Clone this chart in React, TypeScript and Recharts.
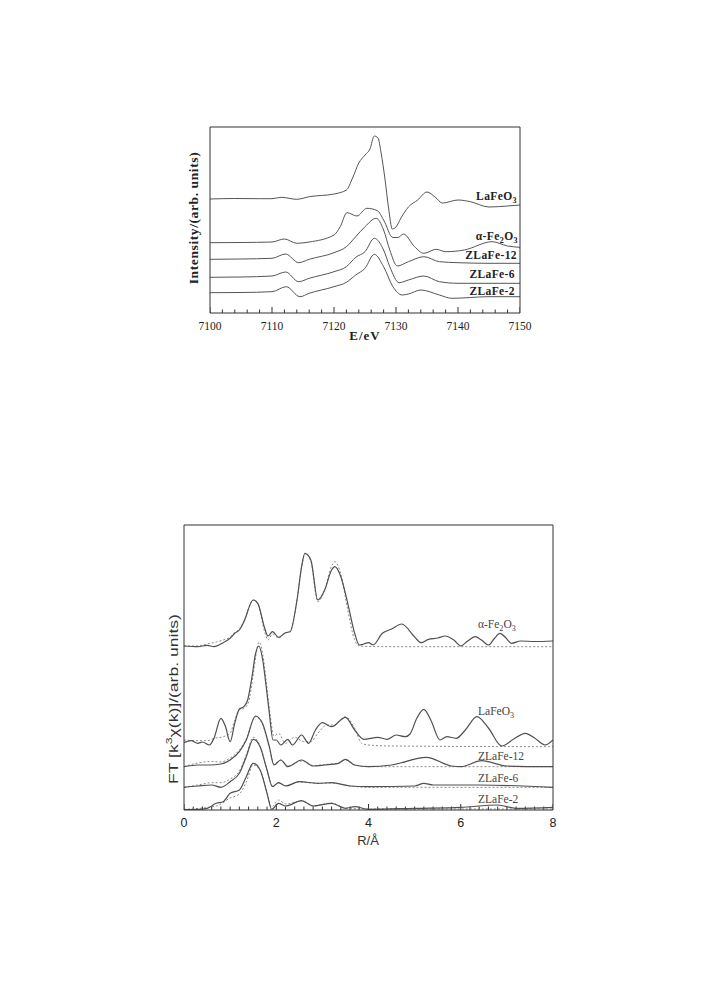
import React from 'react';
import { LineChart, Line, XAxis, YAxis } from 'recharts';

type Pt = [number, number];

// XANES (top panel): energy in eV, intensity in arbitrary units (offset stack)
const xanesLaFeO3: Pt[] = [
  [7100, 114], [7104, 114.5], [7108, 114.3], [7110, 114.3], [7111.5, 115.7], [7114, 113.7],
  [7116, 116.3], [7120, 119], [7122, 123], [7123, 135], [7124, 150], [7125, 158],
  [7125.8, 164], [7126.5, 177], [7127.1, 175], [7127.6, 160], [7128.2, 135], [7128.8, 105],
  [7129.4, 84], [7130, 86], [7130.8, 95], [7132, 106], [7133.5, 113], [7135, 121],
  [7136.3, 116], [7137.5, 110], [7140, 113], [7142, 111.3], [7145, 106], [7148, 107], [7150, 108],
];
const xanesFe2O3: Pt[] = [
  [7100, 70.3], [7105, 70.5], [7110, 71], [7112, 74], [7114, 69.7], [7116, 71], [7120, 78],
  [7121, 86.3], [7122.1, 100.3], [7123.7, 97], [7125.3, 104.7], [7127, 102.3], [7128, 93],
  [7129.5, 75.5], [7130.3, 75.5], [7131.2, 79], [7133, 66.3], [7134.5, 59.7], [7136.5, 63.7],
  [7138, 61.3], [7141, 63], [7145.5, 71.3], [7148, 67], [7150, 65.7],
];
const xanesZLaFe12: Pt[] = [
  [7100, 53.7], [7105, 54], [7110, 54.7], [7112.2, 59], [7114.3, 50.3], [7116, 53.7],
  [7120, 60.3], [7122, 66.3], [7123.5, 76.3], [7125, 86.3], [7126.8, 94.7], [7128, 83],
  [7129, 63], [7130.2, 47], [7132, 51.3], [7134.5, 56.3], [7137, 51.3], [7140, 50.3],
  [7145, 49.7], [7150, 49.7],
];
const xanesZLaFe6: Pt[] = [
  [7100, 35.7], [7105, 36], [7110, 37], [7112.2, 41], [7114.3, 31.3], [7116, 34.7],
  [7120, 41.3], [7122, 46.3], [7123.5, 55.7], [7125, 61.3], [7126.5, 74.7], [7128, 63],
  [7129, 46.3], [7130.5, 30.3], [7132, 33], [7134.5, 37], [7137, 31.3], [7140, 29.7],
  [7145, 29.7], [7150, 29.7],
];
const xanesZLaFe2: Pt[] = [
  [7100, 20.3], [7105, 20.5], [7110, 21.3], [7112.3, 26.3], [7114.5, 16.3], [7116, 19.7],
  [7120, 26.3], [7122, 30.7], [7123.5, 38], [7125, 44.7], [7126.5, 58.7], [7128, 46.3],
  [7129.5, 26.3], [7131, 18], [7132, 19], [7134, 23], [7137, 18], [7139, 14.7],
  [7145, 16.3], [7150, 16.3],
];

// FT EXAFS (bottom panel): R in Å, magnitude in arbitrary units (offset stack)
const ftFe2O3: Pt[] = [
  [0, 164], [0.3, 163.3], [0.5, 164.7], [0.65, 163.3], [0.85, 167.3], [1.0, 171.7], [1.1, 176.7],
  [1.2, 180], [1.3, 188.3], [1.5, 210], [1.6, 206.7], [1.75, 181.7], [1.82, 174], [1.92, 178.3],
  [2.05, 172.7], [2.2, 177.3], [2.3, 178.3], [2.45, 210], [2.55, 243.3], [2.62, 256.7],
  [2.75, 250], [2.9, 210], [3.05, 220], [3.2, 240], [3.27, 243.3], [3.4, 233.3], [3.55, 206.7],
  [3.7, 176.7], [3.8, 165], [3.9, 166], [4.0, 167.3], [4.1, 165], [4.3, 176.7], [4.5, 181],
  [4.72, 186], [5.0, 173], [5.14, 167.3], [5.3, 170.7], [5.5, 172], [5.66, 174], [5.85, 170],
  [6.0, 164], [6.15, 169], [6.31, 173.3], [6.45, 170], [6.6, 165], [6.72, 171], [6.85, 176.7],
  [6.98, 172], [7.1, 166.7], [7.3, 169], [7.6, 168.5], [8.0, 169],
];
const ftFe2O3Fit: Pt[] = [
  [0, 164], [0.3, 164], [0.5, 166], [0.7, 168], [0.85, 170], [1.0, 173], [1.1, 177.5], [1.2, 181],
  [1.3, 189], [1.5, 210], [1.6, 206], [1.75, 178], [1.82, 170], [1.92, 176], [2.05, 172],
  [2.2, 177], [2.3, 178.3], [2.45, 210], [2.55, 243], [2.62, 256.7], [2.75, 249], [2.9, 208.3],
  [3.05, 220], [3.2, 244], [3.27, 248.3], [3.4, 236], [3.55, 200], [3.7, 170], [3.8, 164],
  [4.0, 163.5], [5.0, 163.3], [8.0, 163.3],
];
const ftLaFeO3: Pt[] = [
  [0, 67.3], [0.15, 69.3], [0.3, 66.7], [0.4, 68], [0.55, 65], [0.65, 71.7], [0.8, 91.7],
  [0.9, 83.3], [1.0, 68.3], [1.1, 86.7], [1.2, 101], [1.3, 103.3], [1.38, 110], [1.47, 132],
  [1.55, 156], [1.62, 164], [1.7, 152], [1.77, 128], [1.85, 96.7], [1.93, 70], [2.0, 70],
  [2.1, 65], [2.25, 70.7], [2.35, 65], [2.55, 75], [2.7, 66.7], [2.85, 80], [3.0, 87.3],
  [3.2, 83.3], [3.5, 92.7], [3.7, 80], [3.9, 70.7], [4.2, 72.7], [4.4, 70.7], [4.6, 75],
  [4.8, 73.3], [4.9, 76], [5.05, 92], [5.2, 100.7], [5.35, 90], [5.55, 70], [5.7, 73.3],
  [5.9, 71.7], [6.1, 80], [6.35, 93.3], [6.6, 82], [6.89, 64], [7.15, 71], [7.4, 76.7],
  [7.6, 72], [7.83, 65], [8.0, 70],
];
const ftLaFeO3Fit: Pt[] = [
  [0, 70], [0.3, 69.3], [0.5, 69.3], [0.65, 71.7], [0.8, 72.7], [1.0, 76.7], [1.1, 90],
  [1.2, 100], [1.3, 101.7], [1.4, 108], [1.5, 135], [1.57, 158], [1.63, 168], [1.71, 155],
  [1.78, 130], [1.86, 98], [1.95, 74], [2.05, 76.7], [2.2, 66.7], [2.4, 72.7], [2.6, 68.3],
  [2.75, 68.3], [2.9, 76.7], [3.1, 85], [3.25, 85], [3.5, 93.3], [3.7, 81.7], [3.85, 66.7],
  [4.0, 65], [4.5, 64], [8.0, 63.3],
];
const ftZLaFe12: Pt[] = [
  [0, 43.3], [0.3, 45], [0.55, 45], [0.8, 46], [1.0, 50], [1.2, 58.3], [1.35, 70], [1.55, 94],
  [1.7, 86.7], [1.85, 63.3], [1.95, 45], [2.1, 50], [2.25, 43.3], [2.55, 50], [2.8, 44],
  [3.05, 45], [3.35, 46.7], [3.5, 50.7], [3.7, 45], [4.0, 43.3], [4.5, 45], [5.25, 52.7],
  [5.8, 44], [6.0, 43.3], [6.45, 49.3], [7.0, 44], [8.0, 43.3],
];
const ftZLaFe12Fit: Pt[] = [
  [0, 43.3], [0.3, 47], [0.6, 48.5], [0.8, 48], [1.0, 52], [1.2, 60], [1.35, 71], [1.55, 93.3],
  [1.7, 86], [1.85, 62], [1.95, 46], [2.1, 50], [2.25, 44], [2.55, 49], [2.8, 44.5],
  [3.05, 45.5], [3.35, 47], [3.5, 50], [3.7, 45], [4.0, 43.3], [8.0, 43.3],
];
const ftZLaFe6: Pt[] = [
  [0, 22.7], [0.3, 24], [0.6, 25], [0.8, 22.7], [1.0, 28.3], [1.2, 36.7], [1.35, 53.3],
  [1.5, 70.7], [1.65, 63.3], [1.8, 40], [1.92, 23.3], [2.05, 27.3], [2.2, 24], [2.5, 28.3],
  [2.9, 26.7], [3.2, 27.3], [3.6, 24], [4.0, 23.3], [5.0, 24], [5.2, 26.7], [5.4, 25],
  [6.4, 25], [8.0, 22.7],
];
const ftZLaFe6Fit: Pt[] = [
  [0, 22.7], [0.3, 25], [0.6, 27.3], [0.8, 27.3], [1.0, 31], [1.2, 39], [1.35, 55], [1.5, 72.7],
  [1.65, 64], [1.8, 40], [1.92, 24], [2.05, 27], [2.2, 24.5], [2.5, 28], [2.9, 26.7],
  [3.2, 27], [3.6, 24], [4.0, 22.7], [8.0, 22.7],
];
const ftZLaFe2: Pt[] = [
  [0, 0.5], [0.3, 0.7], [0.5, 1.7], [0.7, 6.7], [0.85, 8.3], [1.0, 16.7], [1.2, 20],
  [1.35, 33.3], [1.5, 46.7], [1.65, 40], [1.8, 16.7], [1.9, 0.7], [2.05, 6.7], [2.2, 4],
  [2.55, 9.3], [2.8, 4], [3.2, 6.7], [3.5, 1.7], [3.7, 3.3], [4.0, 0.7], [5.0, 1.7],
  [6.0, 2.7], [6.8, 5], [7.2, 1.7], [8.0, 2.7],
];
const ftZLaFe2Fit: Pt[] = [
  [0, 0.7], [0.7, 4], [1.0, 12], [1.2, 16], [1.35, 28], [1.5, 45], [1.65, 40], [1.8, 18],
  [1.9, 3], [2.05, 10], [2.2, 6], [2.55, 9], [2.8, 4], [3.2, 7], [3.5, 2], [4.0, 1], [8.0, 1],
];

const xanesMajorTicks = [7100, 7110, 7120, 7130, 7140, 7150];
const xanesTicks = Array.from({ length: 26 }, (_, i) => 7100 + i * 2);
const ftMajorTicks = [0, 2, 4, 6, 8];
const ftTicks = Array.from({ length: 41 }, (_, i) => Math.round(i * 2) / 10);

const SERIF = '"Liberation Serif", "Times New Roman", serif';
const SANS = '"Liberation Sans", Arial, sans-serif';
const FRAME = '#333';

const rows = (pts: Pt[]) => pts.map(([x, y]) => ({ x, y }));

// inward tick marks as short broken segments (y unit = 1px in both panels)
const tickRows = (vals: number[], major: number[]) =>
  vals.flatMap((x) => {
    const len = major.some((m) => Math.abs(m - x) < 1e-6) ? 6 : 3.5;
    return [{ x, y: 0 }, { x, y: len }, { x, y: null }];
  });

function makeLabel(font: string, size: number, color: string) {
  return (props: any) => (
    <text x={props.x} y={props.y + 17} textAnchor="middle" fontFamily={font} fontSize={size} fill={color}>
      {props.payload.value}
    </text>
  );
}

const Sub = ({ children }: { children: React.ReactNode }) => (
  <sub style={{ fontSize: '0.7em', verticalAlign: '-0.3em', lineHeight: 0 }}>{children}</sub>
);

function Tag({ x, y, right, children, style }: any) {
  return (
    <div
      style={{
        position: 'absolute',
        left: right === undefined ? x : undefined,
        right: right !== undefined ? 725 - right : undefined,
        top: y,
        transform: 'translateY(-50%)',
        lineHeight: 1,
        whiteSpace: 'nowrap',
        ...style,
      }}
    >
      {children}
    </div>
  );
}

const topLabel = { fontFamily: SERIF, fontWeight: 700, fontSize: 11.5, color: '#222', letterSpacing: 0.4 };
const botLabel = { fontFamily: SERIF, fontSize: 11.5, color: '#444' };

// frame: axes are 1px tall/wide (a size of 0 stops Recharts drawing them)
function frameAxes(domX: number[], domY: number[], major: number[], font: string, size: number) {
  return [
    <XAxis key="bottom" dataKey="x" type="number" domain={domX} allowDataOverflow ticks={major} interval={0}
      height={1} tickSize={0} tickMargin={0} tickLine={false} axisLine={{ stroke: FRAME }}
      tick={makeLabel(font, size, '#222')} />,
    <XAxis key="top" xAxisId="top" orientation="top" type="number" domain={domX} allowDataOverflow
      height={1} tick={false} tickLine={false} axisLine={{ stroke: FRAME }} />,
    <YAxis key="left" yAxisId="left" dataKey="y" type="number" domain={domY} allowDataOverflow width={1}
      tick={false} tickLine={false} axisLine={{ stroke: FRAME }} />,
    <YAxis key="right" yAxisId="right" orientation="right" type="number" domain={domY} allowDataOverflow
      width={1} tick={false} tickLine={false} axisLine={{ stroke: FRAME }} />,
  ];
}

export default function App() {
  const xanes = [xanesLaFeO3, xanesFe2O3, xanesZLaFe12, xanesZLaFe6, xanesZLaFe2];
  const ftSolid = [ftFe2O3, ftLaFeO3, ftZLaFe12, ftZLaFe6, ftZLaFe2];
  const ftFit = [ftFe2O3Fit, ftLaFeO3Fit, ftZLaFe12Fit, ftZLaFe6Fit, ftZLaFe2Fit];

  return (
    <div style={{ position: 'absolute', left: 0, top: 0, width: 725, height: 989, background: '#fff' }}>
      {/* top panel: XANES, plot area 210..520 x 127..313 */}
      <div style={{ position: 'absolute', left: 0, top: 0 }}>
        <LineChart width={725} height={360} margin={{ top: 126, left: 209, right: 204, bottom: 46 }}>
          {frameAxes([7100, 7150], [0, 186], xanesMajorTicks, SERIF, 11.5)}
          <Line yAxisId="left" data={tickRows(xanesTicks, xanesMajorTicks)} dataKey="y" type="linear"
            stroke={FRAME} strokeWidth={1} dot={false} connectNulls={false} isAnimationActive={false} />
          {xanes.map((s, i) => (
            <Line key={i} yAxisId="left" data={rows(s)} dataKey="y" type="monotone" stroke="#555"
              strokeWidth={1} dot={false} isAnimationActive={false} />
          ))}
        </LineChart>
      </div>

      <Tag right={517} y={197} style={topLabel}>LaFeO<Sub>3</Sub></Tag>
      <Tag right={518} y={237} style={topLabel}>α-Fe<Sub>2</Sub>O<Sub>3</Sub></Tag>
      <Tag right={517} y={256} style={topLabel}>ZLaFe-12</Tag>
      <Tag right={515} y={275} style={topLabel}>ZLaFe-6</Tag>
      <Tag right={515} y={292} style={topLabel}>ZLaFe-2</Tag>

      <div style={{ position: 'absolute', left: 365, top: 336, transform: 'translate(-50%,-50%)',
        fontFamily: SERIF, fontWeight: 700, fontSize: 13, letterSpacing: 1, color: '#222', whiteSpace: 'nowrap' }}>
        E/eV
      </div>
      <div style={{ position: 'absolute', left: 194, top: 218, transform: 'translate(-50%,-50%) rotate(-90deg)',
        fontFamily: SERIF, fontWeight: 700, fontSize: 13.5, letterSpacing: 0.6, color: '#222', whiteSpace: 'nowrap' }}>
        Intensity/(arb. units)
      </div>

      {/* bottom panel: Fourier transforms, plot area 184..553 x 525..810 */}
      <div style={{ position: 'absolute', left: 0, top: 480 }}>
        <LineChart width={725} height={380} margin={{ top: 44, left: 183, right: 171, bottom: 49 }}>
          {frameAxes([0, 8], [0, 285], ftMajorTicks, SANS, 12.5)}
          <Line yAxisId="left" data={tickRows(ftTicks, ftMajorTicks)} dataKey="y" type="linear"
            stroke={FRAME} strokeWidth={1} dot={false} connectNulls={false} isAnimationActive={false} />
          {ftFit.map((s, i) => (
            <Line key={'f' + i} yAxisId="left" data={rows(s)} dataKey="y" type="monotone" stroke="#8a8a8a"
              strokeWidth={1} strokeDasharray="2 2" dot={false} isAnimationActive={false} />
          ))}
          {ftSolid.map((s, i) => (
            <Line key={'s' + i} yAxisId="left" data={rows(s)} dataKey="y" type="monotone" stroke="#505050"
              strokeWidth={1.2} dot={false} isAnimationActive={false} />
          ))}
        </LineChart>
      </div>

      <Tag x={478} y={625} style={botLabel}>α-Fe<Sub>2</Sub>O<Sub>3</Sub></Tag>
      <Tag x={478} y={712} style={botLabel}>LaFeO<Sub>3</Sub></Tag>
      <Tag x={478} y={757} style={botLabel}>ZLaFe-12</Tag>
      <Tag x={478} y={779} style={botLabel}>ZLaFe-6</Tag>
      <Tag x={478} y={800} style={botLabel}>ZLaFe-2</Tag>

      <div style={{ position: 'absolute', left: 368, top: 840, transform: 'translate(-50%,-50%)',
        fontFamily: SANS, fontSize: 13, color: '#333', whiteSpace: 'nowrap' }}>
        R/Å
      </div>
      <div style={{ position: 'absolute', left: 173, top: 699, transform: 'translate(-50%,-50%) rotate(-90deg) scaleX(1.35)',
        fontFamily: SANS, fontSize: 13, color: '#333', whiteSpace: 'nowrap' }}>
        FT [k<sup style={{ fontSize: '0.7em', lineHeight: 0 }}>3</sup>χ(k)]/(arb. units)
      </div>
    </div>
  );
}
